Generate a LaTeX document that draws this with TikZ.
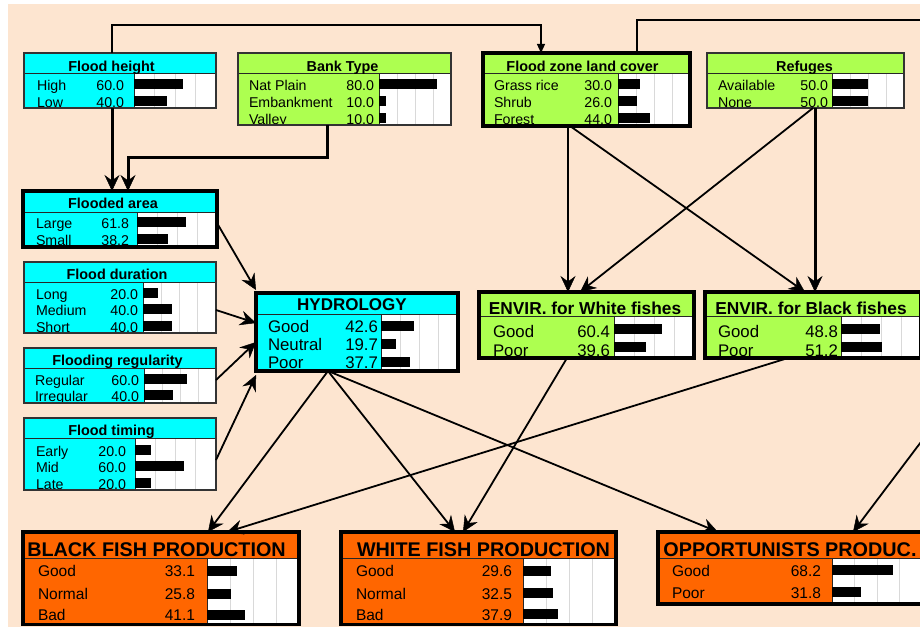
\documentclass[tikz,border=0pt]{standalone}
\usepackage{fontspec}
\setmainfont{Liberation Sans}
\usetikzlibrary{arrows.meta,calc}
\definecolor{peach}{HTML}{FDE5D0}
\definecolor{cyanB}{HTML}{00FFFF}
\definecolor{greenB}{HTML}{ADFF50}
\definecolor{orangeB}{HTML}{FF6600}
\newcounter{tn}
\newcommand\fs[1]{\fontsize{#1}{#1}\selectfont}
\tikzset{
 boxbase/.style={draw=none, inner sep=0pt, outer sep=0pt},
 thinborder/.style={draw=black!80, line width=1.3pt},
 thickborder/.style={draw=black, line width=3.3pt},
 sepline/.style={draw=black!85, line width=0.9pt},
 gridline/.style={draw=black!15, line width=0.6pt},
 txt/.style={inner sep=0pt, outer sep=0pt},
 arr/.style={-{Stealth[length=16pt,width=15pt,inset=5.5pt,line width=0.5pt]}, line width=1.8pt},
 arrthick/.style={-{Stealth[length=16pt,width=15pt,inset=5.5pt,line width=0.5pt]}, line width=3pt},
 arrthin/.style={-{Triangle[length=9pt,width=8pt]}, line width=1.2pt},
 linethin/.style={line width=1.2pt},
}
% box: name, x1, y1, x2, y2, title-bar bottom, bar-area x, fill
\newcommand\bnbox[8]{%
  \node[boxbase, fill=#8, minimum width={(#4-#2)*1pt}, minimum height={(#5-#3)*1pt}, anchor=north west] (#1) at (#2,#3) {};
  \fill[white] (#7,#6) rectangle (#4,#5);
  \foreach \f in {0.25,0.5,0.75} {\draw[gridline] ({#7+(#4-#7)*\f},#6) -- ({#7+(#4-#7)*\f},#5);}
  \draw[sepline] (#2,#6) -- (#4,#6);
  \draw[sepline] (#7,#6) -- (#7,#5);
  \gdef\bx{#7}\gdef\bxe{#4}%
}
% row: baseline, label x, label, value right x, value, font size
\newcommand\bnrow[6]{%
  \stepcounter{tn}%
  \node[txt, font=\fs{#6}, anchor=base west] (r\arabic{tn}a) at (#2,#1) {#3};
  \node[txt, font=\fs{#6}, anchor=base east] (r\arabic{tn}b) at (#4,#1) {#5};
  \fill[black] (\bx,#1-\boff) rectangle ({\bx+(\bxe-\bx)*#5/100},#1-\boff+10);
}
% title: x centre, baseline, text, size
\newcommand\bntitle[4]{%
  \stepcounter{tn}%
  \node[txt, font=\bfseries\fs{#4}, anchor=base] (h\arabic{tn}) at (#1,#2) {#3};
}
\begin{document}
\begin{tikzpicture}[x=1pt,y=-1pt]
\useasboundingbox (0,0) rectangle (920,626);
\clip (0,0) rectangle (920,626);
\fill[white] (0,0) rectangle (920,626);
\fill[peach] (8,4) rectangle (925,630);

% ---------- Flood height
\bnbox{fh}{24}{53}{216}{108}{73}{134}{cyanB}
\begin{scope}\clip (fh.north west) rectangle (fh.south east);
\def\boff{11.5}
\bntitle{111.5}{71}{Flood height}{14.4}
\bnrow{90.5}{37}{High}{124}{60.0}{14.2}
\bnrow{107}{37}{Low}{124}{40.0}{14.2}
\end{scope}
\draw[thinborder] (fh.north west) rectangle (fh.south east);

% ---------- Bank Type
\bnbox{bt}{238}{53}{451}{125}{73}{379}{greenB}
\begin{scope}\clip (bt.north west) rectangle (bt.south east);
\def\boff{11.5}
\bntitle{342.5}{71}{Bank Type}{14.4}
\bnrow{90.7}{249}{Nat Plain}{374}{80.0}{14.2}
\bnrow{107.3}{249}{Embankment}{374}{10.0}{14.2}
\bnrow{124}{249}{Valley}{374}{10.0}{14.2}
\end{scope}
\draw[thinborder] (bt.north west) rectangle (bt.south east);

% ---------- Flood zone land cover
\bnbox{fz}{483}{53}{690}{126}{73}{618}{greenB}
\begin{scope}\clip (fz.north west) rectangle (fz.south east);
\def\boff{11.5}
\bntitle{582.5}{71}{Flood zone land cover}{14.4}
\bnrow{90.7}{494}{Grass rice}{612}{30.0}{14.2}
\bnrow{107.3}{494}{Shrub}{612}{26.0}{14.2}
\bnrow{124}{494}{Forest}{612}{44.0}{14.2}
\end{scope}
\draw[thickborder] (fz.north west) rectangle (fz.south east);

% ---------- Refuges
\bnbox{rf}{707}{53}{904}{108}{73}{832}{greenB}
\begin{scope}\clip (rf.north west) rectangle (rf.south east);
\def\boff{11.5}
\bntitle{804.5}{71}{Refuges}{14.4}
\bnrow{90.7}{718}{Available}{828}{50.0}{14.2}
\bnrow{107.3}{718}{None}{828}{50.0}{14.2}
\end{scope}
\draw[thinborder] (rf.north west) rectangle (rf.south east);

% ---------- Flooded area
\bnbox{fa}{23}{191}{217}{247}{212}{137}{cyanB}
\begin{scope}\clip (fa.north west) rectangle (fa.south east);
\def\boff{11.5}
\bntitle{113}{208.5}{Flooded area}{14.4}
\bnrow{228.7}{36}{Large}{129}{61.8}{14.2}
\bnrow{245.3}{36}{Small}{129}{38.2}{14.2}
\end{scope}
\draw[thickborder] (fa.north west) rectangle (fa.south east);

% ---------- Flood duration
\bnbox{fd}{24}{262}{216}{333}{282}{143}{cyanB}
\begin{scope}\clip (fd.north west) rectangle (fd.south east);
\def\boff{11.5}
\bntitle{117}{279}{Flood duration}{14.4}
\bnrow{299}{36}{Long}{138}{20.0}{14.2}
\bnrow{315.7}{36}{Medium}{138}{40.0}{14.2}
\bnrow{332.3}{36}{Short}{138}{40.0}{14.2}
\end{scope}
\draw[thinborder] (fd.north west) rectangle (fd.south east);

% ---------- Flooding regularity
\bnbox{fr}{24}{348}{216}{403}{368}{144}{cyanB}
\begin{scope}\clip (fr.north west) rectangle (fr.south east);
\def\boff{11.5}
\bntitle{117.5}{365}{Flooding regularity}{14.4}
\bnrow{385}{35}{Regular}{139}{60.0}{14.2}
\bnrow{401.7}{35}{Irregular}{139}{40.0}{14.2}
\end{scope}
\draw[thinborder] (fr.north west) rectangle (fr.south east);

% ---------- Flood timing
\bnbox{ft}{24}{418}{216}{490}{438}{135}{cyanB}
\begin{scope}\clip (ft.north west) rectangle (ft.south east);
\def\boff{11.5}
\bntitle{111.5}{435}{Flood timing}{14.4}
\bnrow{456}{36}{Early}{126}{20.0}{14.2}
\bnrow{472.7}{36}{Mid}{126}{60.0}{14.2}
\bnrow{489.3}{36}{Late}{126}{20.0}{14.2}
\end{scope}
\draw[thinborder] (ft.north west) rectangle (ft.south east);

% ---------- HYDROLOGY
\bnbox{hy}{256}{293}{458}{371}{314}{381}{cyanB}
\begin{scope}\clip (hy.north west) rectangle (hy.south east);
\def\boff{11.7}
\bntitle{352}{310}{HYDROLOGY}{17}
\bnrow{332.7}{268}{Good}{378}{42.6}{16.8}
\bnrow{350.7}{268}{Neutral}{378}{19.7}{16.8}
\bnrow{368.5}{268}{Poor}{378}{37.7}{16.8}
\end{scope}
\draw[thickborder] (hy.north west) rectangle (hy.south east);

% ---------- ENVIR. for White fishes
\bnbox{ew}{479}{292}{694}{358}{316}{614}{greenB}
\begin{scope}\clip (ew.north west) rectangle (ew.south east);
\def\boff{13.7}
\bntitle{585}{314.3}{ENVIR. for White fishes}{17.3}
\bnrow{337.3}{493}{Good}{610}{60.4}{16.8}
\bnrow{356}{493}{Poor}{610}{39.6}{16.8}
\end{scope}
\draw[thickborder] (ew.north west) rectangle (ew.south east);

% ---------- ENVIR. for Black fishes
\bnbox{eb}{705}{292}{921}{358}{316}{841}{greenB}
\begin{scope}\clip (eb.north west) rectangle (eb.south east);
\def\boff{13.7}
\bntitle{811}{314.3}{ENVIR. for Black fishes}{17.3}
\bnrow{337.3}{718}{Good}{838}{48.8}{16.8}
\bnrow{356}{718}{Poor}{838}{51.2}{16.8}
\end{scope}
\draw[thickborder] (eb.north west) rectangle (eb.south east);

% ---------- BLACK FISH PRODUCTION
\bnbox{bf}{23}{532}{299}{624.5}{558}{207}{orangeB}
\begin{scope}\clip (bf.north west) rectangle (bf.south east);
\def\boff{10.5}
\bntitle{156.5}{556}{BLACK FISH PRODUCTION}{19.8}
\bnrow{576.7}{38}{Good}{195}{33.1}{15.5}
\bnrow{599}{38}{Normal}{195}{25.8}{15.5}
\bnrow{620}{38}{Bad}{195}{41.1}{15.5}
\end{scope}
\draw[thickborder] (bf.north west) rectangle (bf.south east);

% ---------- WHITE FISH PRODUCTION
\bnbox{wf}{341}{532}{616}{624.5}{558}{523}{orangeB}
\begin{scope}\clip (wf.north west) rectangle (wf.south east);
\def\boff{11}
\bntitle{483.5}{556}{WHITE FISH PRODUCTION}{19.8}
\bnrow{576.7}{356}{Good}{512}{29.6}{15.5}
\bnrow{599}{356}{Normal}{512}{32.5}{15.5}
\bnrow{620}{356}{Bad}{512}{37.9}{15.5}
\end{scope}
\draw[thickborder] (wf.north west) rectangle (wf.south east);

% ---------- OPPORTUNISTS PRODUC.
\bnbox{op}{658}{532}{922}{604}{558}{832}{orangeB}
\begin{scope}\clip (op.north west) rectangle (op.south east);
\def\boff{11.5}
\bntitle{790}{556}{OPPORTUNISTS PRODUC.}{19.8}
\bnrow{576.7}{672}{Good}{821}{68.2}{15.5}
\bnrow{598}{672}{Poor}{821}{31.8}{15.5}
\end{scope}
\draw[thickborder] (op.north west) rectangle (op.south east);

% ---------- connectors
\coordinate (offA) at (930,20);
\coordinate (offB) at (930,430);

\draw[arrthick] ([xshift=88pt]fh.south west) -- ([xshift=88pt]fh.south west |- fa.north);
\draw[arrthick] ([xshift=89pt]bt.south west) -- ++(0,32) -| ([xshift=105pt]fa.north west);
\draw[arrthin] ([xshift=88pt]fh.north west) -- ++(0,-28) -| ([xshift=58pt]fz.north west);
\draw[linethin] ([xshift=154pt]fz.north west) |- (offA);

\draw[arr] ([xshift=85pt]fz.south west) -- ([xshift=85pt]fz.south west |- ew.north);
\draw[arr] ([xshift=87pt]fz.south west) -- ([xshift=100pt]eb.north west);
\draw[arr] ([xshift=106pt]rf.south west) -- ([xshift=101pt]ew.north west);
\draw[arrthick] ([xshift=108pt]rf.south west) -- ([xshift=108pt]rf.south west |- eb.north);

\draw[arr] ([yshift=-32pt]fa.north east) -- ([yshift=3pt]hy.north west);
\draw[arr] ([yshift=-48pt]fd.north east) -- ([yshift=-30pt]hy.north west);
\draw[arr] ([yshift=-32pt]fr.north east) -- ([yshift=-49pt]hy.north west);
\draw[arr] ([yshift=-42pt]ft.north east) -- ([yshift=-4pt]hy.south west);

\draw[arr] ([xshift=72pt]hy.south west) -- ([xshift=185pt]bf.north west);
\draw[arr] ([xshift=72pt]hy.south west) -- ([xshift=114pt]wf.north west);
\draw[arr] ([xshift=72pt]hy.south west) -- ([xshift=60pt]op.north west);
\draw[arr] ([xshift=88pt]ew.south west) -- ([xshift=122pt]wf.north west);
\draw[arr] ([xshift=83pt]eb.south west) -- ([xshift=204pt]bf.north west);
\draw[arr] (offB) -- ([xshift=195pt]op.north west);
\end{tikzpicture}
\end{document}
